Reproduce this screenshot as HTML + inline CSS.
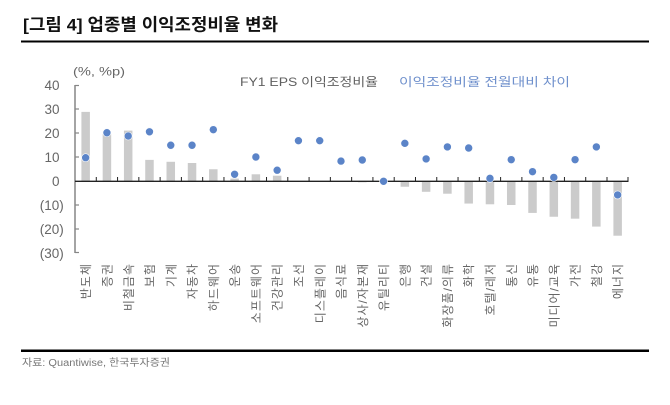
<!DOCTYPE html>
<html>
<head>
<meta charset="utf-8">
<style>
  html, body { margin: 0; padding: 0; background: #ffffff; }
  body { width: 670px; height: 405px; overflow: hidden; }
  svg { display: block; }
  text { font-family: "Liberation Sans", "Noto Sans CJK KR", sans-serif; }
</style>
</head>
<body>
<svg width="670" height="405" viewBox="0 0 670 405" xmlns="http://www.w3.org/2000/svg">
  <rect x="0" y="0" width="670" height="405" fill="#ffffff"/>

  <!-- Title -->
  <text x="23" y="30.5" font-size="17" font-weight="bold" fill="#111111" textLength="255" lengthAdjust="spacingAndGlyphs">[그림 4] 업종별 이익조정비율 변화</text>
  <rect x="21" y="40.5" width="628" height="2" fill="#000000"/>

  <!-- Unit label -->
  <text x="73" y="75.5" font-size="12" fill="#666666" textLength="52" lengthAdjust="spacingAndGlyphs">(%, %p)</text>

  <!-- Legend -->
  <text x="240" y="86" font-size="12" fill="#5f5f5f" textLength="138" lengthAdjust="spacingAndGlyphs">FY1 EPS 이익조정비율</text>
  <text x="399" y="86" font-size="12" fill="#6f90cc" textLength="171" lengthAdjust="spacingAndGlyphs">이익조정비율 전월대비 차이</text>

  <!-- Y axis labels -->
  <g font-size="13.5" fill="#666666">
    <text x="59.5" y="90" text-anchor="end">40</text>
    <text x="59.5" y="114" text-anchor="end">30</text>
    <text x="59.5" y="138" text-anchor="end">20</text>
    <text x="59.5" y="162" text-anchor="end">10</text>
    <text x="59.5" y="186" text-anchor="end">0</text>
    <text x="63.8" y="210" text-anchor="end">(10)</text>
    <text x="63.8" y="234" text-anchor="end">(20)</text>
    <text x="63.8" y="258" text-anchor="end">(30)</text>
  </g>

  <!-- Bars -->
  <g fill="#cbcbcb">
    <rect x="81.39" y="111.88" width="8.5" height="69.12"/>
    <rect x="102.67" y="134.2" width="8.5" height="46.8"/>
    <rect x="123.95" y="130.6" width="8.5" height="50.4"/>
    <rect x="145.23" y="159.88" width="8.5" height="21.12"/>
    <rect x="166.51" y="161.8" width="8.5" height="19.2"/>
    <rect x="187.79" y="163" width="8.5" height="18"/>
    <rect x="209.07" y="169.24" width="8.5" height="11.76"/>
    <rect x="230.35" y="178.6" width="8.5" height="2.4"/>
    <rect x="251.63" y="174.28" width="8.5" height="6.72"/>
    <rect x="272.91" y="175.72" width="8.5" height="5.28"/>
    <rect x="294.19" y="181" width="8.5" height="0.9"/>
    <rect x="315.47" y="181" width="8.5" height="0.9"/>
    <rect x="336.75" y="181" width="8.5" height="0.9"/>
    <rect x="358.03" y="181" width="8.5" height="1.3"/>
    <rect x="400.59" y="181" width="8.5" height="5.76"/>
    <rect x="421.87" y="181" width="8.5" height="10.8"/>
    <rect x="443.15" y="181" width="8.5" height="12.72"/>
    <rect x="464.43" y="181" width="8.5" height="22.56"/>
    <rect x="485.71" y="181" width="8.5" height="23.28"/>
    <rect x="506.99" y="181" width="8.5" height="24"/>
    <rect x="528.27" y="181" width="8.5" height="31.92"/>
    <rect x="549.55" y="181" width="8.5" height="35.76"/>
    <rect x="570.83" y="181" width="8.5" height="37.68"/>
    <rect x="592.11" y="181" width="8.5" height="45.6"/>
    <rect x="613.39" y="181" width="8.5" height="54.72"/>
  </g>

  <!-- Y axis -->
  <line x1="75" y1="85" x2="75" y2="253" stroke="#868686" stroke-width="1.5"/>
  <g stroke="#868686" stroke-width="1.2">
    <line x1="75" y1="85.5" x2="79" y2="85.5"/>
    <line x1="75" y1="109" x2="79" y2="109"/>
    <line x1="75" y1="133" x2="79" y2="133"/>
    <line x1="75" y1="157" x2="79" y2="157"/>
    <line x1="75" y1="205" x2="79" y2="205"/>
    <line x1="75" y1="229" x2="79" y2="229"/>
    <line x1="75" y1="252.5" x2="79" y2="252.5"/>
  </g>

  <!-- X axis -->
  <line x1="75" y1="181.3" x2="628.5" y2="181.3" stroke="#222222" stroke-width="1.3"/>
  <g stroke="#222222" stroke-width="1">
    <line x1="96.28" y1="177" x2="96.28" y2="181"/>
    <line x1="117.56" y1="177" x2="117.56" y2="181"/>
    <line x1="138.84" y1="177" x2="138.84" y2="181"/>
    <line x1="160.12" y1="177" x2="160.12" y2="181"/>
    <line x1="181.4" y1="177" x2="181.4" y2="181"/>
    <line x1="202.68" y1="177" x2="202.68" y2="181"/>
    <line x1="223.96" y1="177" x2="223.96" y2="181"/>
    <line x1="245.24" y1="177" x2="245.24" y2="181"/>
    <line x1="266.52" y1="177" x2="266.52" y2="181"/>
    <line x1="287.8" y1="177" x2="287.8" y2="181"/>
    <line x1="309.08" y1="177" x2="309.08" y2="181"/>
    <line x1="330.36" y1="177" x2="330.36" y2="181"/>
    <line x1="351.64" y1="177" x2="351.64" y2="181"/>
    <line x1="372.92" y1="177" x2="372.92" y2="181"/>
    <line x1="394.2" y1="177" x2="394.2" y2="181"/>
    <line x1="415.48" y1="177" x2="415.48" y2="181"/>
    <line x1="436.76" y1="177" x2="436.76" y2="181"/>
    <line x1="458.04" y1="177" x2="458.04" y2="181"/>
    <line x1="479.32" y1="177" x2="479.32" y2="181"/>
    <line x1="500.6" y1="177" x2="500.6" y2="181"/>
    <line x1="521.88" y1="177" x2="521.88" y2="181"/>
    <line x1="543.16" y1="177" x2="543.16" y2="181"/>
    <line x1="564.44" y1="177" x2="564.44" y2="181"/>
    <line x1="585.72" y1="177" x2="585.72" y2="181"/>
    <line x1="607.0" y1="177" x2="607.0" y2="181"/>
    <line x1="628.0" y1="177" x2="628.0" y2="181"/>
  </g>

  <!-- Dots -->
  <g fill="#5b84c8" stroke="#ffffff" stroke-width="0.6">
    <circle cx="85.64" cy="157.72" r="4"/>
    <circle cx="106.92" cy="132.76" r="4"/>
    <circle cx="128.2" cy="136" r="4"/>
    <circle cx="149.48" cy="131.8" r="4"/>
    <circle cx="170.76" cy="145.24" r="4"/>
    <circle cx="192.04" cy="145.24" r="4"/>
    <circle cx="213.32" cy="129.64" r="4"/>
    <circle cx="234.6" cy="174.28" r="4"/>
    <circle cx="255.88" cy="157" r="4"/>
    <circle cx="277.16" cy="170.2" r="4"/>
    <circle cx="298.44" cy="140.68" r="4"/>
    <circle cx="319.72" cy="140.68" r="4"/>
    <circle cx="341.0" cy="161.08" r="4"/>
    <circle cx="362.28" cy="160" r="4"/>
    <circle cx="383.56" cy="181.3" r="4"/>
    <circle cx="404.84" cy="143.32" r="4"/>
    <circle cx="426.12" cy="158.92" r="4"/>
    <circle cx="447.4" cy="146.92" r="4"/>
    <circle cx="468.68" cy="148" r="4"/>
    <circle cx="489.96" cy="178.36" r="4"/>
    <circle cx="511.24" cy="159.64" r="4"/>
    <circle cx="532.52" cy="171.64" r="4"/>
    <circle cx="553.8" cy="177.4" r="4"/>
    <circle cx="575.08" cy="159.64" r="4"/>
    <circle cx="596.36" cy="146.92" r="4"/>
    <circle cx="617.64" cy="194.92" r="4"/>
  </g>

  <!-- X category labels (rotated) -->
  <g font-size="12" fill="#666666" text-anchor="end" letter-spacing="1">
    <text transform="translate(85.64,263) rotate(-90)" dy="0.38em">반도체</text>
    <text transform="translate(106.92,263) rotate(-90)" dy="0.38em">증권</text>
    <text transform="translate(128.2,263) rotate(-90)" dy="0.38em">비철금속</text>
    <text transform="translate(149.48,263) rotate(-90)" dy="0.38em">보험</text>
    <text transform="translate(170.76,263) rotate(-90)" dy="0.38em">기계</text>
    <text transform="translate(192.04,263) rotate(-90)" dy="0.38em">자동차</text>
    <text transform="translate(213.32,263) rotate(-90)" dy="0.38em">하드웨어</text>
    <text transform="translate(234.6,263) rotate(-90)" dy="0.38em">운송</text>
    <text transform="translate(255.88,263) rotate(-90)" dy="0.38em">소프트웨어</text>
    <text transform="translate(277.16,263) rotate(-90)" dy="0.38em">건강관리</text>
    <text transform="translate(298.44,263) rotate(-90)" dy="0.38em">조선</text>
    <text transform="translate(319.72,263) rotate(-90)" dy="0.38em">디스플레이</text>
    <text transform="translate(341.0,263) rotate(-90)" dy="0.38em">음식료</text>
    <text transform="translate(362.28,263) rotate(-90)" dy="0.38em">상사/자본재</text>
    <text transform="translate(383.56,263) rotate(-90)" dy="0.38em">유틸리티</text>
    <text transform="translate(404.84,263) rotate(-90)" dy="0.38em">은행</text>
    <text transform="translate(426.12,263) rotate(-90)" dy="0.38em">건설</text>
    <text transform="translate(447.4,263) rotate(-90)" dy="0.38em">화장품/의류</text>
    <text transform="translate(468.68,263) rotate(-90)" dy="0.38em">화학</text>
    <text transform="translate(489.96,263) rotate(-90)" dy="0.38em">호텔/레저</text>
    <text transform="translate(511.24,263) rotate(-90)" dy="0.38em">통신</text>
    <text transform="translate(532.52,263) rotate(-90)" dy="0.38em">유통</text>
    <text transform="translate(553.8,263) rotate(-90)" dy="0.38em">미디어/교육</text>
    <text transform="translate(575.08,263) rotate(-90)" dy="0.38em">가전</text>
    <text transform="translate(596.36,263) rotate(-90)" dy="0.38em">철강</text>
    <text transform="translate(617.64,263) rotate(-90)" dy="0.38em">에너지</text>
  </g>

  <!-- Bottom rule & source -->
  <rect x="21" y="349.5" width="628" height="2.5" fill="#000000"/>
  <text x="22" y="366" font-size="10" fill="#777777" textLength="148" lengthAdjust="spacingAndGlyphs">자료: Quantiwise, 한국투자증권</text>
</svg>
</body>
</html>
